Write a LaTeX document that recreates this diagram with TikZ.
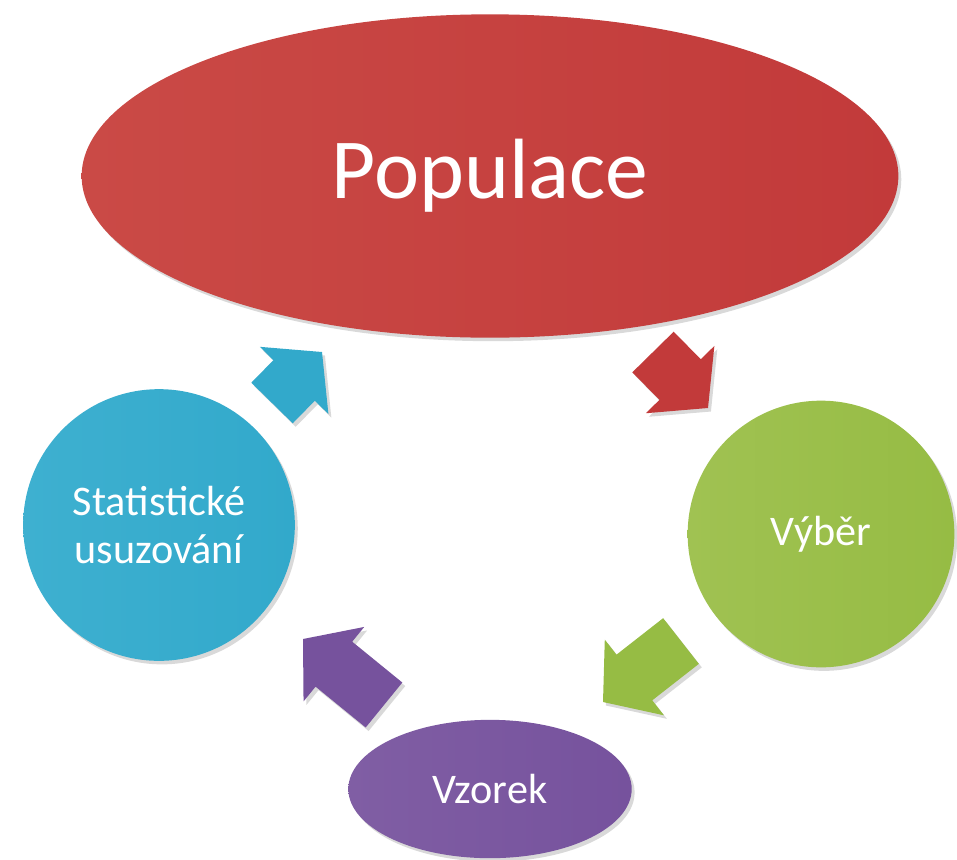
\documentclass[tikz,border=0pt]{standalone}
\usepackage{fontspec}
\setmainfont{Carlito}
\usepackage{tikz}
\usetikzlibrary{calc, shapes.geometric, shadows}

\definecolor{popred}{RGB}{194,58,58}
\definecolor{popredl}{RGB}{202,74,70}
\definecolor{selgreen}{RGB}{150,188,68}
\definecolor{selgreenl}{RGB}{160,194,82}
\definecolor{smppurple}{RGB}{118,82,157}
\definecolor{smppurplel}{RGB}{128,94,164}
\definecolor{infblue}{RGB}{50,169,203}
\definecolor{infbluel}{RGB}{62,176,208}

\begin{document}
\begin{tikzpicture}[x=0.03cm, y=-0.03cm,
    softshadow/.style={drop shadow={shadow xshift=2.5pt, shadow yshift=-3pt, opacity=0.3}},
    blob/.style={draw=none, text=white, inner sep=0pt, align=center,
        font=\fontsize{36}{41}\selectfont, softshadow}]
    \useasboundingbox (0,0) rectangle (957,859);

    % the four stages
    \node[blob, ellipse, minimum width=24.5cm, minimum height=9.7cm, left color=popredl, right color=popred,
        font=\fontsize{73}{80}\selectfont] (pop) at (490,176) {Populace};
    \node[blob, circle, minimum size=8cm, left color=selgreenl, right color=selgreen] (sel) at (821,534) {Výběr};
    \node[blob, ellipse, minimum width=8.5cm, minimum height=4.15cm, left color=smppurplel, right color=smppurple] (smp) at (490,789) {Vzorek};
    \node[blob, circle, minimum size=8.15cm, left color=infbluel, right color=infblue] (inf) at (159,525) {Statistické\\usuzování};

    % block arrows between the stages
    \coordinate (r1) at (653,352); \coordinate (r2) at (708,408);
    \coordinate (g1) at (681,641); \coordinate (g2) at (603,702);
    \coordinate (p1) at (384,705); \coordinate (p2) at (303,639);
    \coordinate (b1) at (272,403); \coordinate (b2) at (322,352);
    \foreach \s/\t/\col in {r1/r2/popred, g1/g2/selgreen, p1/p2/smppurple, b1/b2/infblue} {
        \coordinate (h) at ($(\t)!34pt!(\s)$);
        \fill[\col, softshadow] ($(\s)!24.75pt!90:(\t)$) -- ($(h)!24.75pt!90:(\t)$) -- ($(h)!41pt!90:(\t)$)
            -- (\t) -- ($(h)!41pt!-90:(\t)$) -- ($(h)!24.75pt!-90:(\t)$) -- ($(\s)!24.75pt!-90:(\t)$) -- cycle;
    }
\end{tikzpicture}
\end{document}
